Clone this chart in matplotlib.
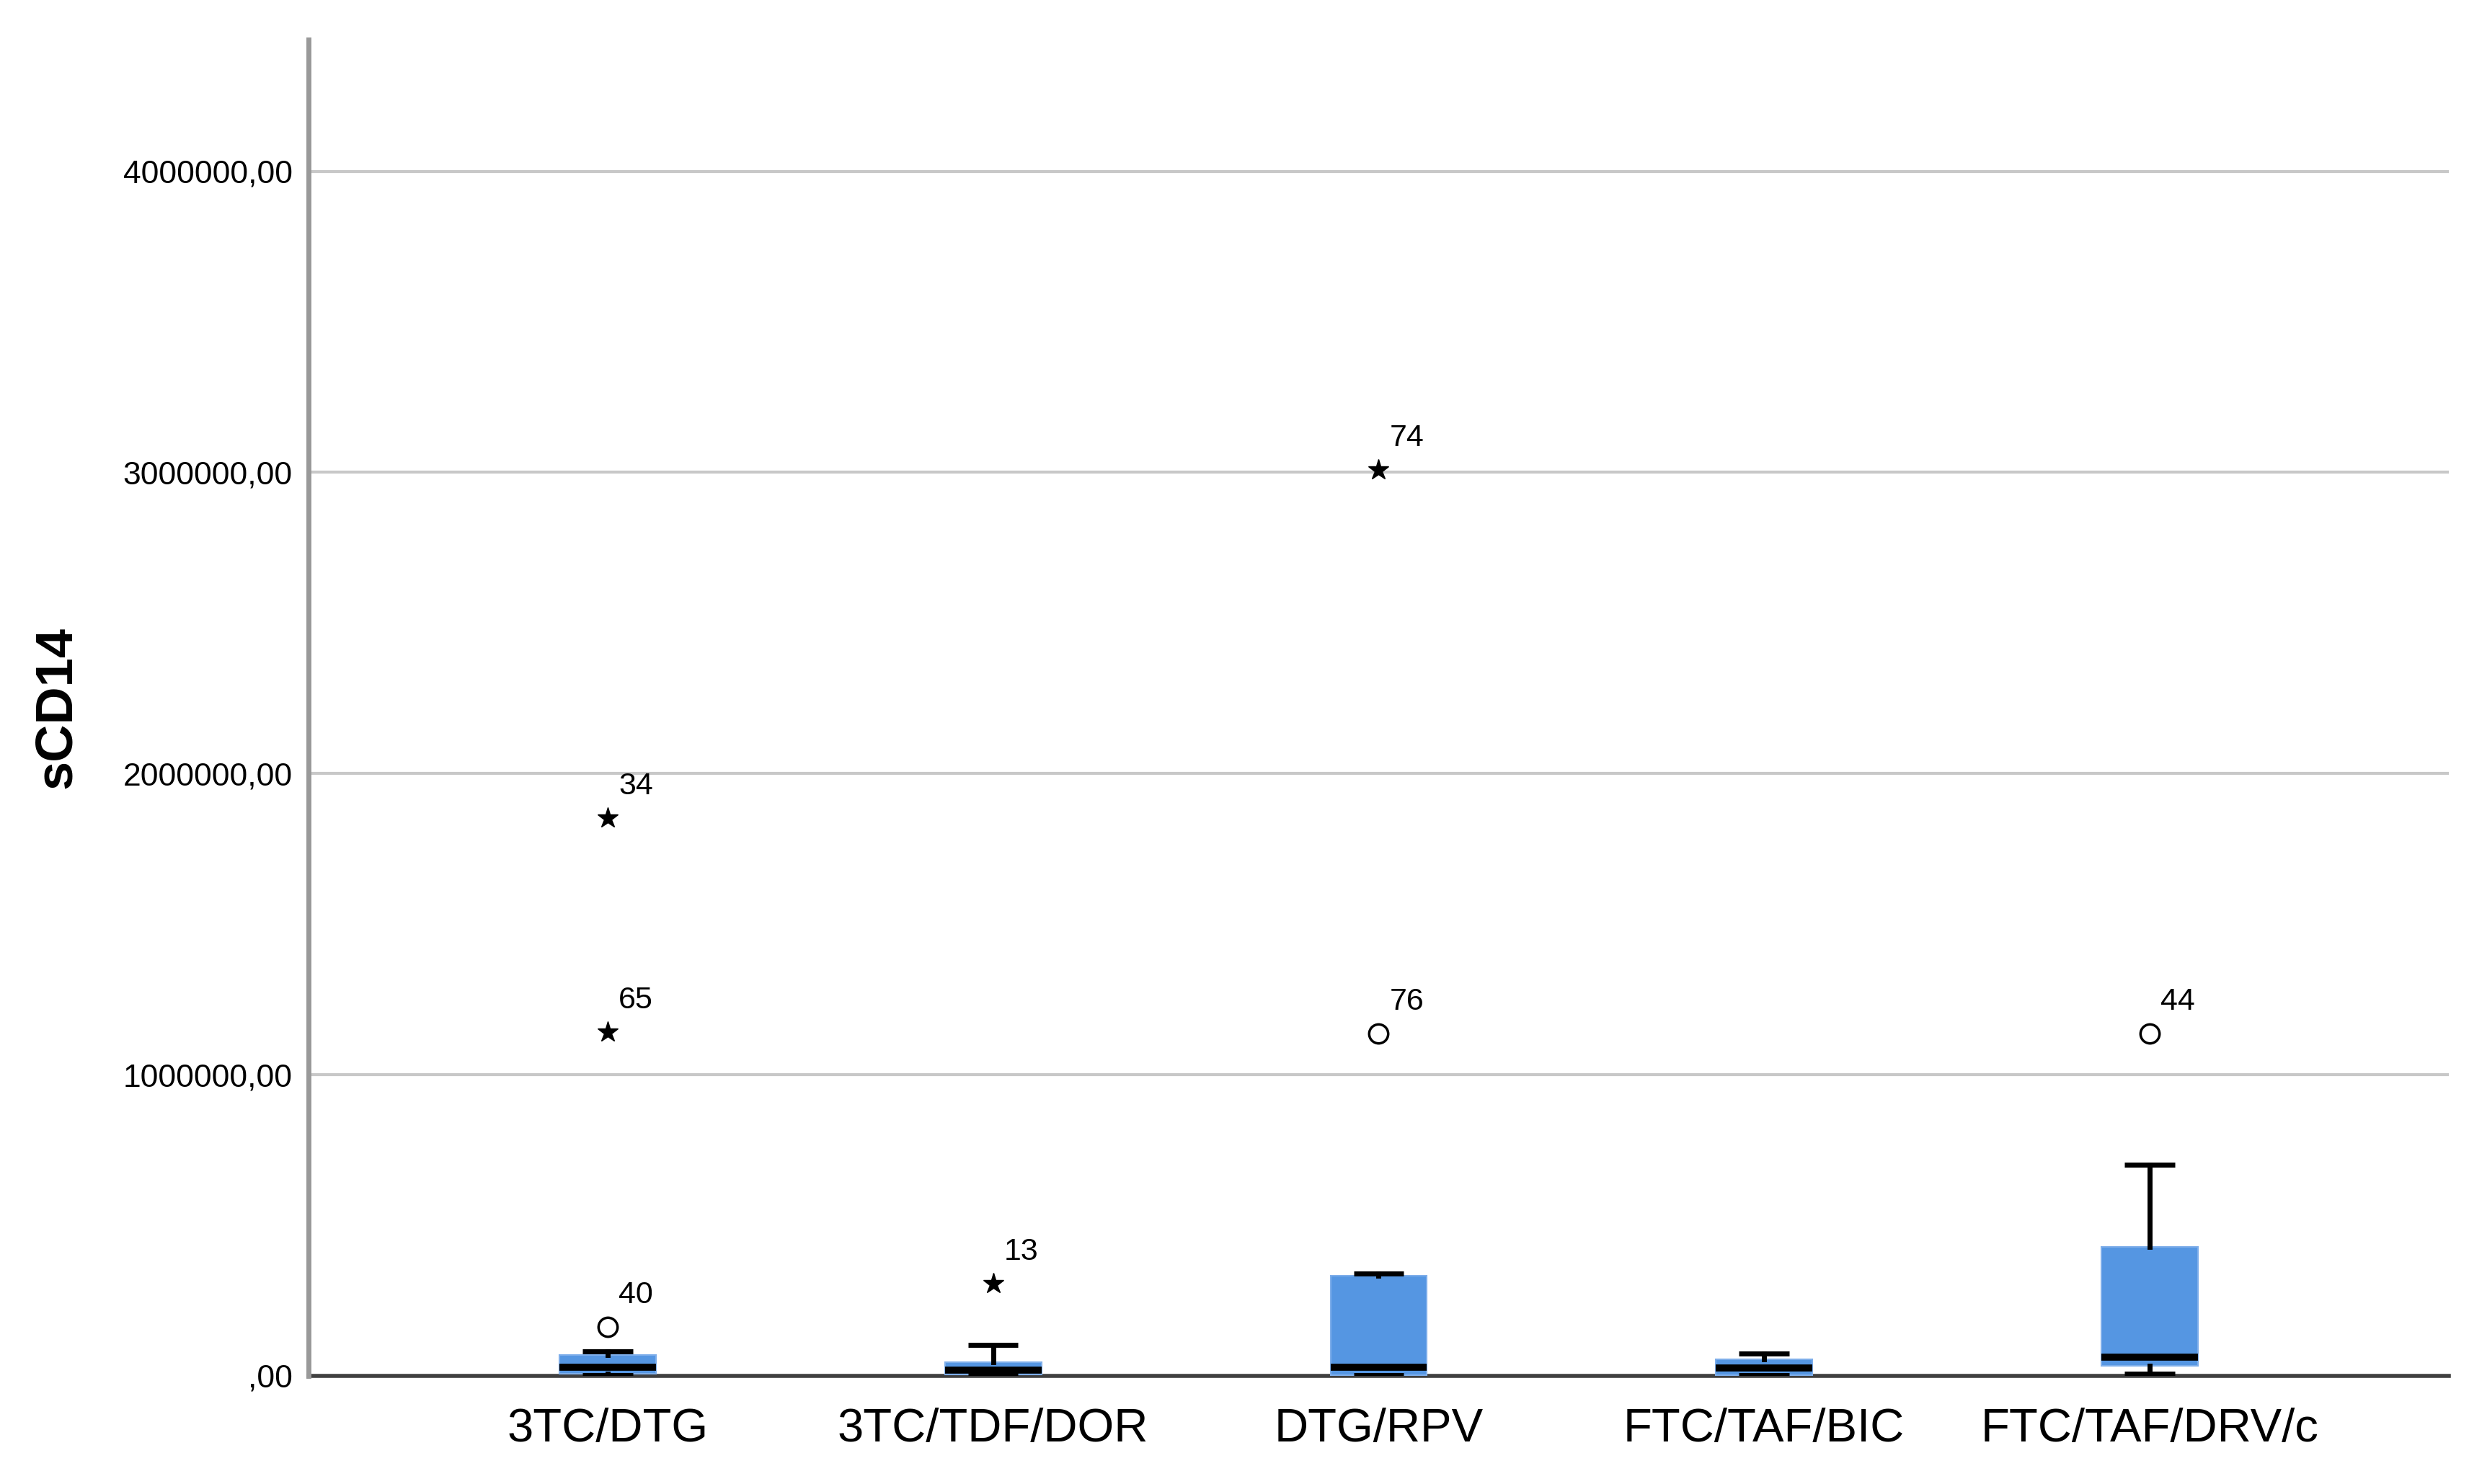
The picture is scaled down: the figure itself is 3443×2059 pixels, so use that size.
import matplotlib
matplotlib.use('Agg')
import matplotlib.pyplot as plt

plt.rcParams['font.family'] = ['Liberation Sans', 'DejaVu Sans']

groups = ['3TC/DTG', '3TC/TDF/DOR', 'DTG/RPV', 'FTC/TAF/BIC', 'FTC/TAF/DRV/c']
whislo = [2000, 1000, 1000, 2000, 8000]
q1 = [6000, 4000, 2000, 2000, 34000]
med = [29000, 18000, 29000, 26000, 62000]
q3 = [70000, 46000, 333000, 56000, 429000]
whishi = [80000, 102000, 340000, 74000, 701000]

# outliers: group index (1-based), value, case number, kind (o = outlier, * = extreme)
out_group = [1, 1, 1, 2, 3, 3, 5]
out_value = [162000, 1141000, 1851000, 306000, 1136000, 3008000, 1136000]
out_case = ['40', '65', '34', '13', '76', '74', '44']
out_kind = ['o', '*', '*', '*', 'o', '*', 'o']

ytick_vals = [0, 1000000, 2000000, 3000000, 4000000]
ytick_labels = [',00', '1000000,00', '2000000,00', '3000000,00', '4000000,00']

box_color = '#5596e2'

fig = plt.figure(figsize=(34.43, 20.59), dpi=100)
ax = fig.add_axes([0.1243, 0.0729, 0.8623, 0.9004])

stats = []
for i, g in enumerate(groups):
    stats.append({'label': g, 'whislo': whislo[i], 'q1': q1[i], 'med': med[i],
                  'q3': q3[i], 'whishi': whishi[i], 'fliers': []})

ax.bxp(stats, positions=range(1, len(groups) + 1), widths=0.25, capwidths=0.13,
       patch_artist=True, showfliers=False,
       boxprops=dict(facecolor=box_color, edgecolor='#7eaeea', linewidth=1.5),
       medianprops=dict(color='black', linewidth=7, solid_capstyle='butt'),
       whiskerprops=dict(color='black', linewidth=5),
       capprops=dict(color='black', linewidth=5, solid_capstyle='butt'),
       zorder=3)

for g, v, c, k in zip(out_group, out_value, out_case, out_kind):
    if k == 'o':
        ax.plot(g, v, marker='o', markersize=19, markerfacecolor='white',
                markeredgecolor='black', markeredgewidth=2.5, zorder=4)
    else:
        ax.plot(g, v, marker='*', markersize=21, color='black', zorder=4)
    ax.annotate(c, (g, v), xytext=(15, 24), textcoords='offset pixels',
                ha='left', va='bottom', fontsize=31, zorder=5)

ax.set_xlim(0.224, 5.776)
ax.set_ylim(0, 4437000)
ax.set_yticks(ytick_vals)
ax.set_yticklabels(ytick_labels, fontsize=32)
ax.set_xticks(range(1, len(groups) + 1))
ax.set_xticklabels(groups, fontsize=47)
ax.tick_params(axis='y', length=0, pad=16)
ax.tick_params(axis='x', length=0, pad=32)

for v in ytick_vals[1:]:
    ax.axhline(v, color='#c8c8c8', linewidth=3, zorder=1)

ax.spines['top'].set_visible(False)
ax.spines['right'].set_visible(False)
ax.spines['left'].set_color('#999999')
ax.spines['left'].set_linewidth(5)
ax.spines['bottom'].set_color('#404040')
ax.spines['bottom'].set_linewidth(4)
ax.spines['bottom'].set_zorder(2)

ax.set_ylabel('sCD14', fontsize=52, fontweight='bold')
ax.yaxis.set_label_coords(-0.106, 0.5)

fig.savefig('out.png', dpi=100)
